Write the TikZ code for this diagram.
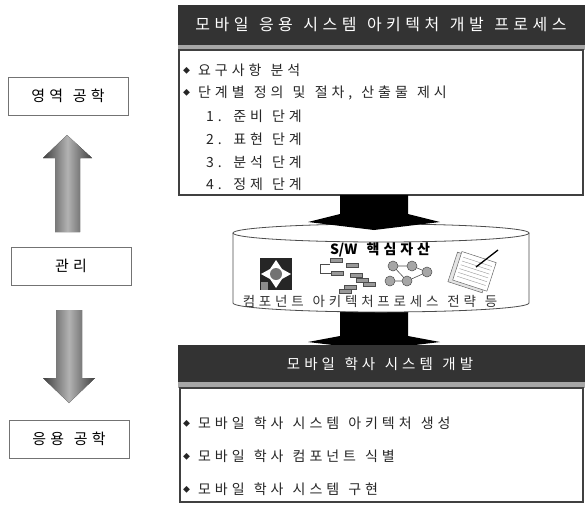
\documentclass[tikz,border=0pt]{standalone}
\usepackage{fontspec}
\setmainfont{Noto Sans CJK KR}
\newfontfamily\wide{Noto Sans CJK KR}[LetterSpace=28, WordSpace=1.3]
\usetikzlibrary{calc,positioning}

\newcommand{\blt}{\raisebox{2pt}{\fontsize{7}{7}\selectfont ◆}\hspace{8pt}}

\tikzset{
  hdr/.style={fill=black!80, draw=none},
  strip/.style={fill=black!35, draw=none},
  frame/.style={draw=black!75, line width=1.1pt, fill=white},
  hdrtxt/.style={text=white, font=\wide\fontsize{16}{16}\selectfont},
  item/.style={anchor=west, inner sep=0pt, font=\wide\fontsize{14}{14}\selectfont, text=black!85},
  sidebox/.style={draw=black!55, line width=0.6pt, minimum width=120pt, minimum height=38pt, font=\wide\fontsize{15}{15}\selectfont},
  grayarrow/.style={left color=black!75, right color=black!75, middle color=black!30, draw=none},
  bar/.style={fill=black!40, draw=black!70, line width=0.4pt}
}

\begin{document}
\begin{tikzpicture}[x=1pt, y=-1pt]
\useasboundingbox (0,0) rectangle (585,509);

% left column
\node[sidebox] (domain) at (68,96) {영역 공학};
\node[sidebox] (mgmt) at (71,266) {관리};
\node[sidebox] (appl) at (69,439) {응용 공학};

\fill[grayarrow] (55,232) -- (55,158) -- (43,158) -- (67,135) -- (92,158) -- (80,158) -- (80,232) -- cycle;
\fill[grayarrow] (56,310) -- (82,310) -- (82,378) -- (95,378) -- (69,403) -- (43,378) -- (56,378) -- cycle;

% process box
\fill[hdr] (178,5) rectangle (585,45);
\fill[strip] (178,45) rectangle (585,50);
\node[hdrtxt] (hd1) at (381,25) {모바일 응용 시스템 아키텍처 개발 프로세스};
\filldraw[frame] (179,50) rectangle (583,195);

\node[item] (p1) at (183,70) {\blt 요구사항 분석};
\node[item] (p2) at (183,93) {\blt 단계별 정의 및 절차, 산출물 제시};
\node[item] (s1) at (206,116) {1. 준비 단계};
\node[item] (s2) at (206,139) {2. 표현 단계};
\node[item] (s3) at (206,162) {3. 분석 단계};
\node[item] (s4) at (206,184) {4. 정제 단계};

% lower black arrow
\fill[black] (340,310) -- (408,310) -- (408,336) -- (440,342) -- (374,350) -- (308,342) -- (340,336) -- cycle;

% core asset store
\filldraw[fill=white, draw=black!70, line width=0.8pt] (233,233) -- (233,303) arc (180:0:148 and 9) -- (529,233);
\draw[black!70, line width=0.8pt] (381,233) ellipse (148 and 9);
\node[font=\wide\bfseries\fontsize{14}{14}\selectfont] (core) at (380,250) {{\normalfont\bfseries S/W} 핵심자산};
\node[font=\wide\fontsize{13.5}{13.5}\selectfont, text=black!80] (kinds) at (370,301) {컴포넌트 아키텍처프로세스 전략 등};

% component icon
\fill[black!85] (260,258) rectangle (292,290);
\fill[white] (276,260) -- (282,269) -- (291,274) -- (282,279) -- (276,288) -- (270,279) -- (261,274) -- (270,269) -- cycle;
\fill[black!55] (276,274) circle (6);
\fill[black!45] (261,282) rectangle (268,290);

% schedule icon
\draw[black!70, line width=0.5pt] (330,264) -- (320,264) -- (320,273) -- (331,273);
\foreach \bx/\by in {330/258, 346/263, 331/271, 350/273, 356/278, 363/282, 344/285, 339/289}
  \filldraw[bar] (\bx,\by) rectangle ++(12,4);

% process icon
\draw[black!70, line width=0.6pt] (393,266) -- (412,266) -- (427,272) -- (407,281) -- (390,281);
\draw[black!70, line width=0.6pt] (393,266) -- (407,281);
\foreach \cx/\cy in {393/266, 412/266, 427/272, 407/281, 390/281}
  \filldraw[fill=black!35, draw=black!70, line width=0.5pt] (\cx,\cy) circle (5);

% strategy icon
\begin{scope}[rotate around={-18:(470,272)}]
  \filldraw[fill=black!10, draw=black!60, line width=0.5pt] (452,257) rectangle (488,288);
  \filldraw[fill=white, draw=black!60, line width=0.5pt] (456,255) rectangle (492,285);
  \foreach \ly in {260,264,...,283}
    \draw[black!40, line width=0.4pt] (459,\ly) -- (489,\ly);
\end{scope}
\draw[black, line width=1.3pt] (476,267) -- (498,250);

% upper black arrow
\fill[black] (340,195) -- (408,195) -- (408,214) -- (440,222) -- (374,230) -- (308,222) -- (340,214) -- cycle;

% development box
\fill[hdr] (178,345) rectangle (585,382);
\fill[strip] (178,382) rectangle (585,388);
\node[hdrtxt, font=\wide\fontsize{14.5}{14.5}\selectfont] (hd2) at (380,364) {모바일 학사 시스템 개발};
\filldraw[frame] (180,388) rectangle (583,502);

\node[item] (d1) at (183,423) {\blt 모바일 학사 시스템 아키텍처 생성};
\node[item] (d2) at (183,456) {\blt 모바일 학사 컴포넌트 식별};
\node[item] (d3) at (183,489) {\blt 모바일 학사 시스템 구현};

\end{tikzpicture}
\end{document}
